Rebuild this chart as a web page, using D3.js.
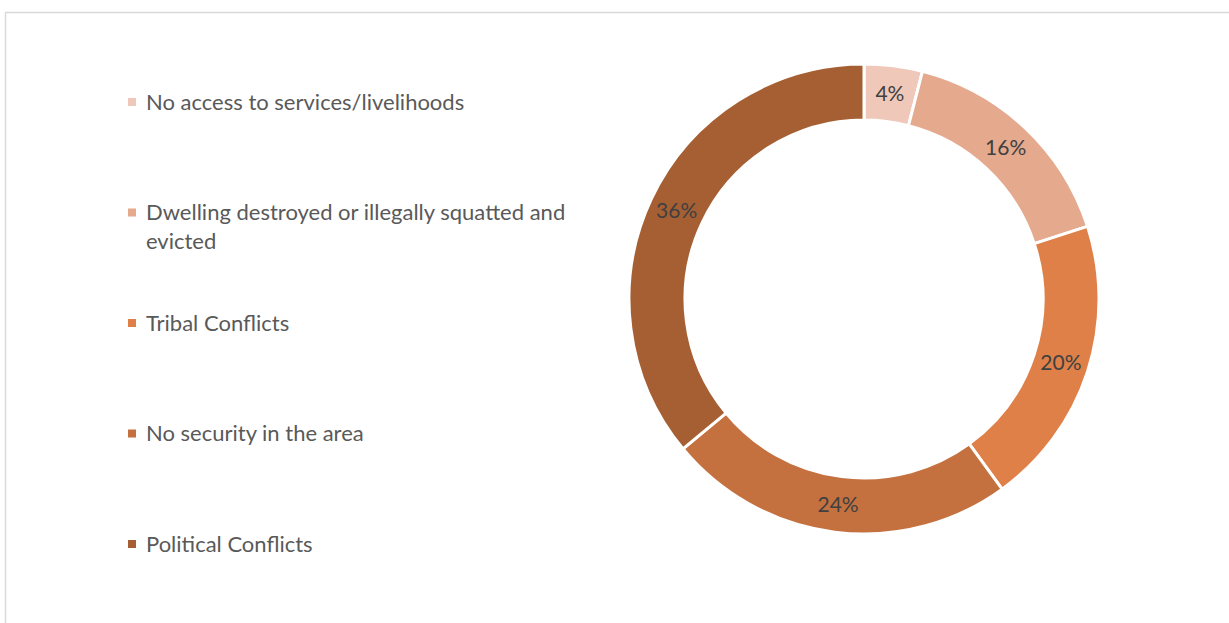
<!doctype html>
<html lang="en">

<head>
    <meta charset="UTF-8">
    <title>Donut</title>
    <style>
        body { margin: 0; background: #fff; }
        svg text { font-family: Lato, "Open Sans", sans-serif; }
    </style>
</head>

<body>
    <svg width="1229" height="623"></svg>
    <script type="text/javascript" src="https://cdn.jsdelivr.net/npm/d3@7"></script>
    <script type="text/javascript">
    var categories = ['No access to services/livelihoods', 'Dwelling destroyed or illegally squatted and evicted', 'Tribal Conflicts', 'No security in the area', 'Political Conflicts'];
    var legendLines = [['No access to services/livelihoods'], ['Dwelling destroyed or illegally squatted and', 'evicted'], ['Tribal Conflicts'], ['No security in the area'], ['Political Conflicts']];
    var values = [4, 16, 20, 24, 36];
    var colors = ['#F0C8B9', '#E5A98E', '#DE8048', '#C4713F', '#A55F33'];

    var svg = d3.select('svg');

    // frame
    svg.append('rect')
        .attr('x', 5.5)
        .attr('y', 12.5)
        .attr('width', 1300)
        .attr('height', 700)
        .attr('fill', '#fff')
        .attr('stroke', '#d9d9d9')
        .attr('stroke-width', 1.5);

    // donut
    var cx = 864, cy = 299, outerR = 235, innerR = 179;
    var pie = d3.pie().sort(null).value(function(d) { return d; });
    var arc = d3.arc().innerRadius(innerR).outerRadius(outerR);
    var labelArc = d3.arc().innerRadius((innerR + outerR) / 2).outerRadius((innerR + outerR) / 2);
    var total = d3.sum(values);

    var g = svg.append('g')
        .attr('transform', 'translate(' + cx + ',' + cy + ')');
    var slices = g.selectAll('g.slice')
        .data(pie(values))
        .enter()
        .append('g')
        .classed('slice', true);
    slices.append('path')
        .attr('d', arc)
        .attr('fill', function(d, i) { return colors[i]; })
        .attr('stroke', '#fff')
        .attr('stroke-width', 3);
    slices.append('text')
        .attr('transform', function(d) { return 'translate(' + labelArc.centroid(d) + ')'; })
        .attr('text-anchor', 'middle')
        .attr('dy', '0.35em')
        .style('font-size', '21px')
        .style('fill', '#404040')
        .text(function(d) { return Math.round(d.value / total * 100) + '%'; });

    // legend
    var legendY = d3.scalePoint()
        .domain(categories)
        .range([102, 544]);
    var legend = svg.append('g').classed('legend', true);
    var items = legend.selectAll('g')
        .data(categories)
        .enter()
        .append('g')
        .attr('transform', function(d) { return 'translate(128,' + legendY(d) + ')'; });
    items.append('rect')
        .attr('x', 0)
        .attr('y', -4)
        .attr('width', 8)
        .attr('height', 8)
        .attr('fill', function(d, i) { return colors[i]; });
    items.each(function(d, i) {
        var t = d3.select(this).append('text')
            .attr('x', 18)
            .attr('y', 0)
            .style('font-size', '22px')
            .style('fill', '#595959');
        legendLines[i].forEach(function(line, j) {
            t.append('tspan')
                .attr('x', 18)
                .attr('dy', j === 0 ? '0.35em' : '29px')
                .text(line);
        });
    });
    </script>
</body>

</html>
